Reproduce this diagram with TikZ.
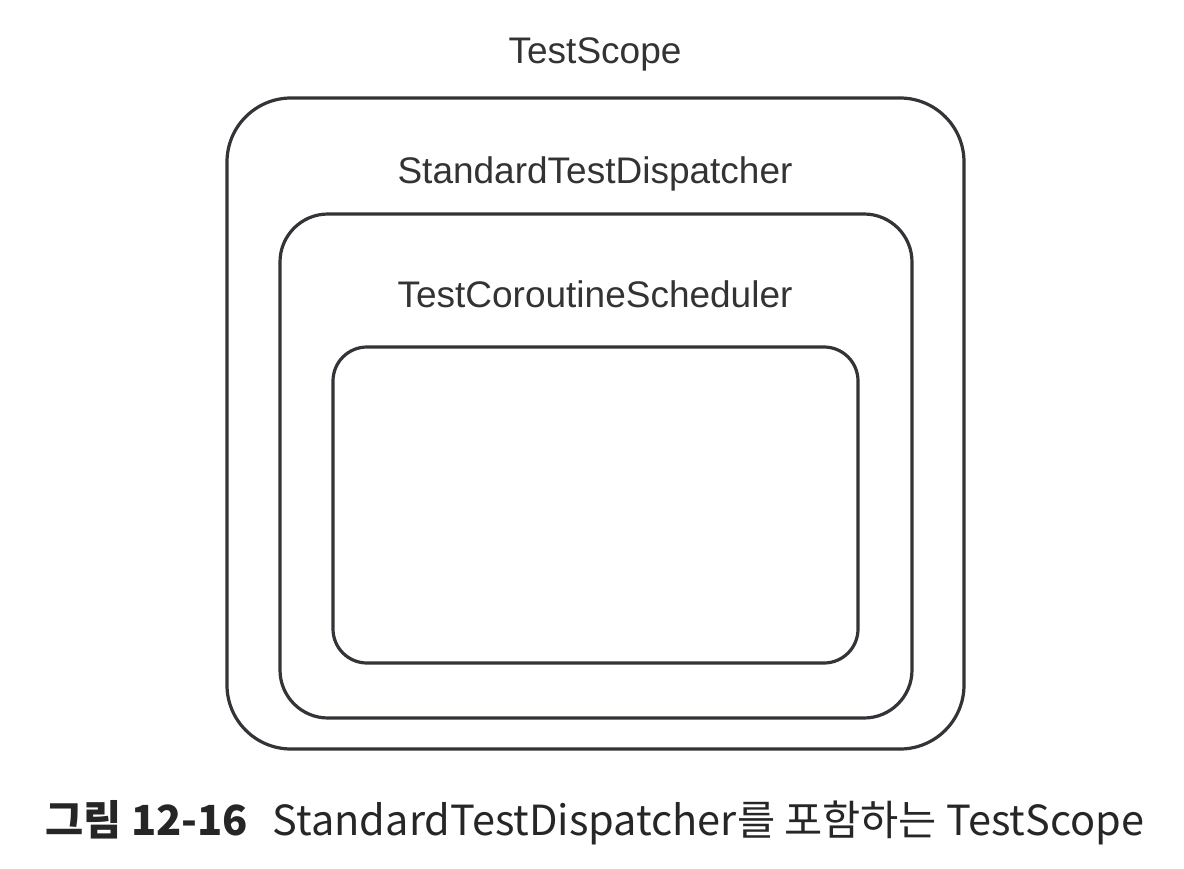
\documentclass[tikz,border=0pt]{standalone}
\usepackage{fontspec}
\setmainfont{Noto Sans CJK KR}
\newfontfamily\lblfont{Liberation Sans}
\definecolor{linec}{HTML}{333338}
\begin{document}
\begin{tikzpicture}[x=1pt,y=-1pt,
  frame/.style={draw=linec, line width=3.2pt},
  lbl/.style={font=\lblfont\fontsize{37}{37}\selectfont, text=black!80, inner sep=0pt, anchor=base}]
\useasboundingbox (0,0) rectangle (1184,868);
\draw[frame, rounded corners=64pt] (227,98) rectangle (964,749);
\draw[frame, rounded corners=48pt] (280,214) rectangle (912,718);
\draw[frame, rounded corners=34pt] (333,347) rectangle (858,663);
\node[lbl] (ts) at (595,63) {TestScope};
\node[lbl] (std) at (595,183) {StandardTestDispatcher};
\node[lbl] (tcs) at (595,307) {TestCoroutineScheduler};
\node[inner sep=0pt, anchor=base west, text=black!85, font=\fontsize{41.5}{41.5}\selectfont] (cap) at (45,835) {\textbf{그림 12-16}\hspace{0.6em}StandardTestDispatcher를 포함하는 TestScope};
\end{tikzpicture}
\end{document}
